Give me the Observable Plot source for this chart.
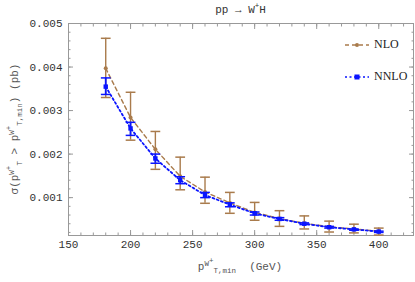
<!DOCTYPE html>
<html><head><meta charset="utf-8">
<script src="https://cdn.jsdelivr.net/npm/d3@7"></script>
<script src="https://cdn.jsdelivr.net/npm/@observablehq/plot@0.6"></script>
<style>
body{margin:0;background:#fff;}
#wrap{position:relative;width:415px;height:282px;font-family:"Liberation Mono",monospace;color:#444;}
.ov{position:absolute;white-space:nowrap;font-size:11px;}
sup,sub{font-size:7.5px;}
</style></head><body>
<div id="wrap"></div>
<script>
const ptMin = [180,200,220,240,260,280,300,320,340,360,380,400];
const nloVal = [0.00397,0.00284,0.00211,0.00149,0.00113,0.00088,0.00066,0.00052,0.00041,0.00033,0.00028,0.00023];
const nloHi  = [0.00466,0.00342,0.00252,0.00193,0.00147,0.00112,0.00089,0.00070,0.00058,0.00046,0.00039,0.00030];
const nloLo  = [0.00330,0.00232,0.00165,0.00118,0.00087,0.00064,0.00048,0.00034,0.00028,0.00021,0.00019,0.00014];
const nnloVal = [0.00355,0.00259,0.00190,0.00140,0.00106,0.00084,0.00064,0.00051,0.00040,0.00032,0.00027,0.00022];
const nnloHi  = [0.00375,0.00273,0.00200,0.00148,0.00112,0.00088,0.00067,0.00054,0.00042,0.00034,0.00028,0.00023];
const nnloLo  = [0.00337,0.00243,0.00179,0.00132,0.00100,0.00079,0.00060,0.00048,0.00038,0.00030,0.00025,0.00020];
const xMajor = [150,200,250,300,350,400];
const yMajor = [0.001,0.002,0.003,0.004,0.005];

const nlo = ptMin.map((x,i)=>({x,y:nloVal[i],lo:nloLo[i],hi:nloHi[i]}));
const nnlo = ptMin.map((x,i)=>({x,y:nnloVal[i],lo:nnloLo[i],hi:nnloHi[i]}));
const brown = "#a97b4c", blue = "#0a14ff";
const cap = {draw(ctx, size){ const w = Math.sqrt(size)*1.1; ctx.moveTo(-w,0); ctx.lineTo(w,0); }};
const xMinor = d3.range(150,431,10);
const yMinor = d3.range(0.0002,0.00501,0.0002);

const chart = Plot.plot({
  width:415, height:282,
  marginLeft:68, marginRight:2, marginTop:23, marginBottom:47,
  x:{domain:[150,428]},
  y:{domain:[0.00013,0.005]},
  style:{fontFamily:"Liberation Mono, monospace", fontSize:"11px", color:"#444", background:"white"},
  marks:[
    Plot.axisX({ticks:xMinor, tickSize:-2.5, stroke:"#999", text:null, label:null}),
    Plot.axisX({ticks:xMajor, tickSize:-5, stroke:"#999", text:null, label:null}),
    Plot.axisX({anchor:"top", ticks:xMinor, tickSize:-2.5, stroke:"#999", text:null, label:null}),
    Plot.axisX({anchor:"top", ticks:xMajor, tickSize:-5, stroke:"#999", text:null, label:null}),
    Plot.axisX({ticks:xMajor, tickSize:0, tickPadding:5, label:null, tickFormat:d=>d, fill:"#333"}),
    Plot.axisY({ticks:yMinor, tickSize:-2.5, stroke:"#999", text:null, label:null}),
    Plot.axisY({ticks:yMajor, tickSize:-5, stroke:"#999", text:null, label:null}),
    Plot.axisY({anchor:"right", ticks:yMinor, tickSize:-2.5, stroke:"#999", text:null, label:null}),
    Plot.axisY({anchor:"right", ticks:yMajor, tickSize:-5, stroke:"#999", text:null, label:null}),
    Plot.axisY({ticks:yMajor, tickSize:0, tickPadding:6, label:null, tickFormat:d3.format(".3f"), fill:"#333"}),
    Plot.frame({stroke:"#999"}),
    Plot.line(nlo,{x:"x",y:"y",stroke:brown,strokeWidth:1.4,strokeDasharray:"4,3"}),
    Plot.ruleX(nlo,{x:"x",y1:"lo",y2:"hi",stroke:brown,strokeWidth:1.4}),
    Plot.dot(nlo,{x:"x",y:"lo",symbol:cap,r:2.5,stroke:brown,strokeWidth:1.5}),
    Plot.dot(nlo,{x:"x",y:"hi",symbol:cap,r:2.5,stroke:brown,strokeWidth:1.5}),
    Plot.dot(nlo,{x:"x",y:"y",r:2,fill:brown}),
    Plot.line(nnlo,{x:"x",y:"y",stroke:blue,strokeWidth:1.8,strokeDasharray:"2,2.5"}),
    Plot.ruleX(nnlo,{x:"x",y1:"lo",y2:"hi",stroke:blue,strokeWidth:1.8}),
    Plot.dot(nnlo,{x:"x",y:"lo",symbol:cap,r:2.5,stroke:blue,strokeWidth:1.5}),
    Plot.dot(nnlo,{x:"x",y:"hi",symbol:cap,r:2.5,stroke:blue,strokeWidth:1.5}),
    Plot.dot(nnlo,{x:"x",y:"y",symbol:"square",r:2.5,fill:blue})
  ]
});
const wrap = document.getElementById("wrap");
wrap.appendChild(chart);

function ov(html, css){ const d=document.createElement("div"); d.className="ov"; d.innerHTML=html; Object.assign(d.style,css); wrap.appendChild(d); return d; }
ov("pp &rarr; W<sup>+</sup>H",{left:"68px",width:"345px",textAlign:"center",top:"2px",color:"#333"});
ov("p<sup>W<sup>+</sup></sup><sub>T,min</sub> &nbsp;(GeV)",{left:"0",width:"480px",textAlign:"center",top:"256px",color:"#555"});
ov("&sigma;(p<sup>W<sup>+</sup></sup><sub>T</sub> &gt; p<sup>W<sup>+</sup></sup><sub>T,min</sub>) (pb)",
   {left:"14px",top:"129px",transform:"translate(-50%,-50%) rotate(-90deg)",color:"#555"});
const lg = (col,dash,sym,label,top)=>ov(
  `<svg width="26" height="10" style="vertical-align:middle"><line x1="1" x2="25" y1="5" y2="5" stroke="${col}" stroke-width="1.6" stroke-dasharray="${dash}"/>`+
  (sym==="sq"?`<rect x="10.5" y="2.5" width="5" height="5" fill="${col}"/>`:`<circle cx="13" cy="5" r="2" fill="${col}"/>`)+
  `</svg><span style="font-family:'Liberation Serif',serif;font-size:12px;color:#222;margin-left:4px">${label}</span>`,
  {left:"344px",top:top});
lg(brown,"4,3","c","NLO","37px");
lg(blue,"2,2.5","sq","NNLO","69px");
</script>
</body></html>
